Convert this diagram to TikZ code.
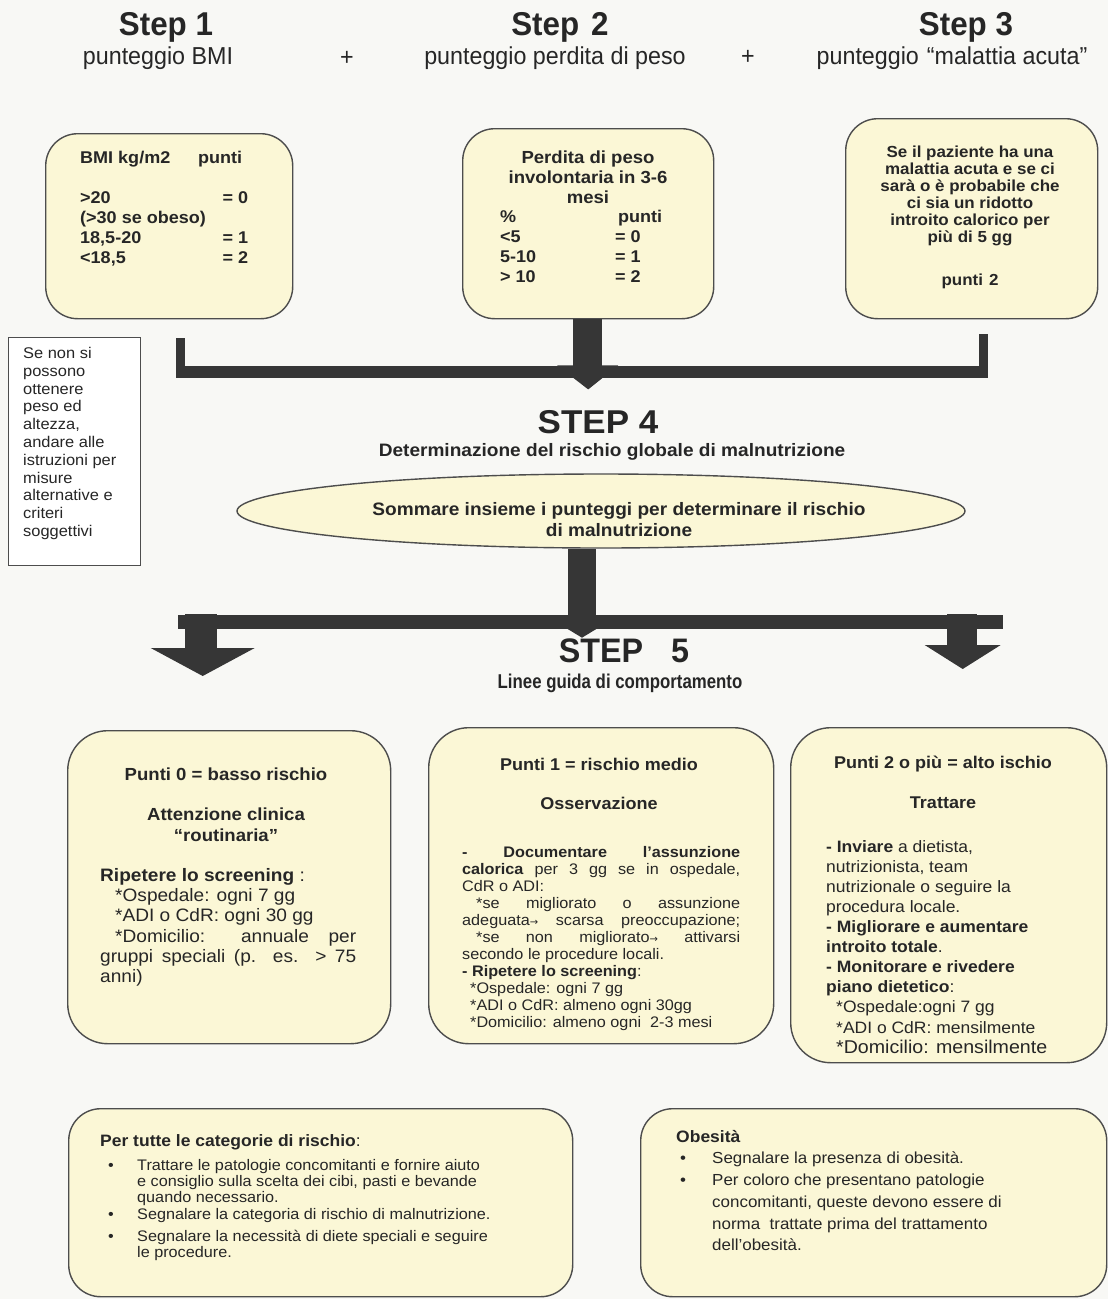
\documentclass[tikz,border=0pt]{standalone}
\usepackage{fontspec}
\setmainfont[FakeStretch=1.06]{Liberation Sans}
\newfontfamily\narrowfont[FakeStretch=0.84]{Liberation Sans}
\newfontfamily\headfont[FakeStretch=0.95]{Liberation Sans}
\newfontfamily\arrowfont{DejaVu Sans}
\usetikzlibrary{shapes.geometric,calc}

\definecolor{paper}{HTML}{F8F8F5}
\definecolor{cream}{HTML}{FBF7D6}
\definecolor{edge}{HTML}{4D4D4D}
\definecolor{barfill}{HTML}{363636}
\definecolor{ink}{HTML}{262626}

\newcommand{\fsz}[2]{\fontsize{#1}{#2}\selectfont}
\newcommand{\arr}{{\arrowfont\fontsize{10}{10}\selectfont →}}

\tikzset{
  card/.style={draw=edge, line width=1.4pt, fill=cream, rounded corners=32pt, anchor=north west},
  note/.style={draw=edge, line width=1.2pt, fill=white, anchor=north west},
  txt/.style={inner sep=0pt, text=ink, align=left},
  ctxt/.style={inner sep=0pt, text=ink, align=center},
  stephead/.style={inner sep=0pt, text=ink, font=\headfont\bfseries\fsz{33}{38}},
  stepsub/.style={inner sep=0pt, text=ink, font=\headfont\fsz{24.5}{27}},
  bigstep/.style={inner sep=0pt, text=ink, font=\bfseries\fsz{33}{38}},
  barshape/.style={fill=barfill, draw=none},
}

\begin{document}
\begin{tikzpicture}[x=1pt, y=-1pt]
\fill[paper] (0,0) rectangle (1108,1299);
\useasboundingbox (0,0) rectangle (1108,1299);

% ---------- step headings ----------
\node[stephead] (s1) at (166,27) {Step 1};
\node[stepsub]  (s1b) at (158,58) {punteggio BMI};
\node[stepsub]  (p1) at (347,58) {+};
\node[stephead] (s2) at (560,27) {Step\hspace{12pt}2};
\node[stepsub]  (s2b) at (555,58) {punteggio perdita di peso};
\node[stepsub]  (p2) at (748,57) {+};
\node[stephead] (s3) at (966,27) {Step 3};
\node[stepsub]  (s3b) at (952,58) {punteggio\hspace{8pt}“malattia acuta”};

% ---------- step boxes ----------
\node[card, minimum width=247pt, minimum height=185pt] (b1) at (45,133) {};
\node[card, minimum width=251pt, minimum height=190pt] (b2) at (462,128) {};
\node[card, minimum width=252pt, minimum height=200pt] (b3) at (845,118) {};

\node[txt, anchor=north west, font=\bfseries\fsz{17}{20}] (b1t) at (80,151)
  {\makebox[118pt][l]{BMI kg/m2}punti\\
   \\
   \makebox[168pt]{>20\hfill= 0}\\
   (>30 se obeso)\\
   \makebox[168pt]{18,5-20\hfill= 1}\\
   \makebox[168pt]{<18,5\hfill= 2}};

\node[ctxt, anchor=north, font=\bfseries\fsz{17.5}{20}] (b2t) at (588,151)
  {Perdita di peso\\involontaria in 3-6\\mesi};
\node[txt, anchor=north west, font=\bfseries\fsz{17}{20}] (b2u) at (500,210)
  {\makebox[118pt][l]{\%}punti\\
   \makebox[115pt][l]{<5}= 0\\
   \makebox[115pt][l]{5-10}= 1\\
   \makebox[115pt][l]{> 10}= 2};

\node[ctxt, anchor=north, font=\bfseries\fsz{16}{17}] (b3t) at (970,146)
  {Se il paziente ha una\\malattia acuta e se ci\\sarà o è probabile che\\ci sia un ridotto\\introito calorico per\\più di 5 gg\\[26pt]punti\hspace{6pt}2};

% ---------- side note ----------
\node[note, minimum width=132pt, minimum height=228pt] (side) at (8,337) {};
\node[txt, anchor=north west, font=\fsz{15.5}{17.8}] (sidet) at (23,347)
  {Se non si\\possono\\ottenere\\peso ed\\altezza,\\andare alle\\istruzioni per\\misure\\alternative e\\criteri\\soggettivi};

% ---------- step 4 ----------
\node[bigstep] (s4) at (598,422) {STEP 4};
\node[ctxt, font=\bfseries\fsz{18}{20}] (s4b) at (612,452) {Determinazione del rischio globale di malnutrizione};

\node[ellipse, draw=edge, line width=1.4pt, fill=cream, minimum width=728pt, minimum height=74pt] (ell) at (601,511) {};
\node[ctxt, font=\bfseries\fsz{18}{21}] (ellt) at (619,520)
  {Sommare insieme i punteggi per determinare il rischio\\di malnutrizione};

% ---------- connectors from the three steps ----------
\fill[barshape] ($(b1.south)+(7,19)$) rectangle ($(b1.south)+(16,59)$);
\fill[barshape] ($(b1.south)+(7,47)$) rectangle ($(b3.south)+(16,59)$);
\fill[barshape] ($(b3.south)+(7,15)$) rectangle ($(b3.south)+(16,59)$);
\fill[barshape] ($(b2.south)+(-15,0)$) rectangle ($(b2.south)+(14,48)$);
\fill[barshape] ($(b2.south)+(-31,46)$) -- ($(b2.south)+(30,46)$) -- ($(b2.south)+(0,70)$) -- cycle;

% ---------- step 5 ----------
\node[inner sep=0pt, text=ink, font=\headfont\bfseries\fsz{34}{38}] (s5) at (624,651) {STEP\hspace{28pt}5};
\node[inner sep=0pt, text=ink, font=\narrowfont\bfseries\fsz{20}{24}] (s5b) at (620,683) {Linee guida di comportamento};

% ---------- outcome boxes ----------
\node[card, rounded corners=40pt, minimum width=323pt, minimum height=313pt] (bL) at (67,730) {};
\node[card, rounded corners=40pt, minimum width=345pt, minimum height=316pt] (bM) at (428,727) {};
\node[card, rounded corners=40pt, minimum width=316pt, minimum height=335pt] (bR) at (790,727) {};

% connectors from the sum to the outcomes
\fill[barshape] ($(ell.south)+(-33,0)$) rectangle ($(ell.south)+(-5,72)$);
\fill[barshape] ($(ell.south)+(-423,66)$) rectangle ($(ell.south)+(402,80)$);
\fill[barshape] ($(ell.south)+(-47,72)$) -- ($(ell.south)+(9,72)$) -- ($(ell.south)+(-19,89)$) -- cycle;
\fill[barshape] ($(bL.north)+(-44.5,-116)$) rectangle ($(bL.north)+(-12.5,-80)$);
\fill[barshape] ($(bL.north)+(-78.5,-82)$) -- ($(bL.north)+(25.5,-82)$) -- ($(bL.north)+(-26.5,-54)$) -- cycle;
\fill[barshape] ($(bR.north)+(-2,-113)$) rectangle ($(bR.north)+(28,-80)$);
\fill[barshape] ($(bR.north)+(-24,-82)$) -- ($(bR.north)+(52,-82)$) -- ($(bR.north)+(14,-58)$) -- cycle;

% low risk
\node[ctxt, anchor=north, font=\bfseries\fsz{17.5}{21}] (bLh) at (226,768)
  {Punti 0 = basso rischio\\[19pt]Attenzione clinica\\“routinaria”};
\node[txt, anchor=north west, font=\fsz{18}{20.3}] (bLt) at (100,868)
  {\textbf{Ripetere lo screening} :\\
   \hspace*{15pt}*Ospedale: ogni 7 gg\\
   \hspace*{15pt}*ADI o CdR: ogni 30 gg\\
   \hspace*{15pt}\makebox[241pt][s]{*Domicilio: annuale per}\\
   \makebox[256pt][s]{gruppi speciali (p. es. > 75}\\
   anni)};

% medium risk
\node[ctxt, anchor=north, font=\bfseries\fsz{17}{20}] (bMh) at (599,758)
  {Punti 1 = rischio medio\\[19pt]Osservazione};
\node[txt, anchor=north west, font=\fsz{15.3}{17}] (bMt) at (462,846)
  {\makebox[278pt][s]{\textbf{- Documentare l'assunzione}}\\
   \makebox[278pt][s]{\textbf{calorica} per 3 gg se in ospedale,}\\
   CdR o ADI:\\
   \hspace*{14pt}\makebox[264pt][s]{*se migliorato o assunzione}\\
   \makebox[278pt][s]{adeguata\arr\ scarsa preoccupazione;}\\
   \hspace*{14pt}\makebox[264pt][s]{*se non migliorato\arr\ attivarsi}\\
   secondo le procedure locali.\\
   \textbf{- Ripetere lo screening}:\\
   \hspace*{8pt}*Ospedale: ogni 7 gg\\
   \hspace*{8pt}*ADI o CdR: almeno ogni 30gg\\
   \hspace*{8pt}*Domicilio: almeno ogni\ \ 2-3 mesi};

% high risk
\node[ctxt, anchor=north, font=\bfseries\fsz{17}{20}] (bRh) at (943,756)
  {Punti 2 o più = alto ischio\\[20pt]Trattare};
\node[txt, anchor=north west, font=\fsz{16.5}{20.1}] (bRt) at (826,840)
  {\textbf{- Inviare} a dietista,\\
   nutrizionista, team\\
   nutrizionale o seguire la\\
   procedura locale.\\
   \textbf{- Migliorare e aumentare}\\
   \textbf{introito totale}.\\
   \textbf{- Monitorare e rivedere}\\
   \textbf{piano dietetico}:\\
   \hspace*{10pt}*Ospedale:ogni 7 gg\\
   \hspace*{10pt}*ADI o CdR: mensilmente\\
   \hspace*{10pt}{\fsz{18.5}{20.1}*Domicilio: mensilmente}};

% ---------- general notes ----------
\node[card, minimum width=504pt, minimum height=188pt] (nA) at (68,1108) {};
\node[card, minimum width=466pt, minimum height=188pt] (nB) at (640,1108) {};

\node[txt, anchor=north west, font=\fsz{16.5}{19}] (nAh) at (100,1134)
  {\textbf{Per tutte le categorie di rischio}:};
\node[txt, anchor=north west, font=\fsz{15.3}{16.3}] (nAt) at (108,1159)
  {\makebox[29pt][l]{\textbullet}Trattare le patologie concomitanti e fornire aiuto\\
   \hspace*{29pt}e consiglio sulla scelta dei cibi, pasti e bevande\\
   \hspace*{29pt}quando necessario.\\
   \makebox[29pt][l]{\textbullet}Segnalare la categoria di rischio di malnutrizione.\\[6pt]
   \makebox[29pt][l]{\textbullet}Segnalare la necessità di diete speciali e seguire\\
   \hspace*{29pt}le procedure.};

\node[txt, anchor=north west, font=\bfseries\fsz{16.5}{19}] (nBh) at (676,1130) {Obesità};
\node[txt, anchor=north west, font=\fsz{16}{21.7}] (nBt) at (680,1152)
  {\makebox[32pt][l]{\textbullet}Segnalare la presenza di obesità.\\
   \makebox[32pt][l]{\textbullet}Per coloro che presentano patologie\\
   \hspace*{32pt}concomitanti, queste devono essere di\\
   \hspace*{32pt}norma\ \ trattate prima del trattamento\\
   \hspace*{32pt}dell'obesità.};
\end{tikzpicture}
\end{document}
